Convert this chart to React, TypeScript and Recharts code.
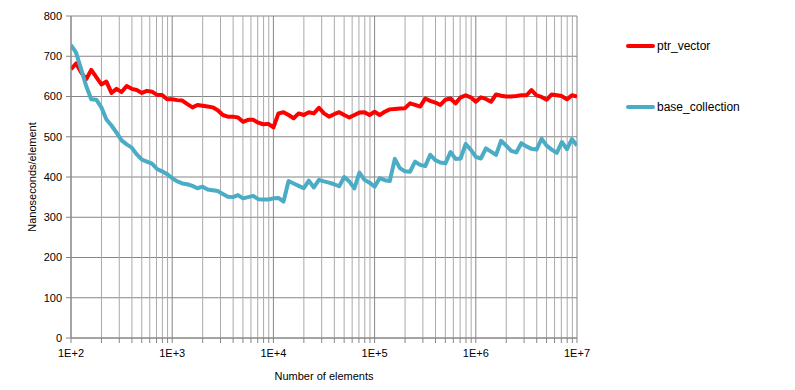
import { LineChart, Line, XAxis, YAxis, CartesianGrid, ReferenceLine, Label } from 'recharts';

// sample sizes: 20 steps per decade, 1E+2 .. 1E+7
const sizes = Array.from({ length: 101 }, (_, i) => Math.pow(10, 2 + i / 20));

const ptrVector = [
  668, 682, 660, 643, 666, 648, 630, 637, 609, 619,
  611, 626, 619, 616, 609, 614, 612, 604, 604, 593,
  593, 591, 590, 581, 573, 579, 577, 575, 573, 566,
  554, 550, 550, 548, 537, 542, 542, 535, 531, 532,
  523, 558, 561, 554, 546, 558, 554, 561, 558, 572,
  558, 550, 556, 561, 554, 548, 554, 560, 561, 554,
  562, 554, 562, 568, 569, 570, 571, 583, 579, 575,
  595, 589, 585, 579, 592, 595, 583, 598, 603, 598,
  587, 598, 594, 587, 605, 602, 600, 600, 601, 603,
  603, 616, 603, 599, 592, 605, 603, 601, 593, 603,
  600,
];

const baseCollection = [
  728, 709, 668, 626, 593, 592, 573, 543, 528, 510,
  491, 481, 473, 456, 443, 438, 433, 420, 414, 407,
  397, 389, 384, 382, 378, 372, 376, 369, 367, 365,
  358, 351, 350, 355, 347, 350, 353, 345, 344, 344,
  347, 348, 339, 390, 384, 378, 372, 391, 374, 393,
  389, 386, 382, 377, 400, 389, 372, 411, 393, 386,
  376, 397, 392, 390, 445, 422, 414, 413, 438, 430,
  427, 455, 442, 436, 434, 462, 445, 446, 482, 468,
  450, 446, 471, 463, 455, 490, 478, 465, 461, 484,
  476, 470, 468, 495, 478, 468, 460, 487, 469, 494,
  478,
];

const decades = [100, 1000, 10000, 100000, 1000000, 10000000];
const decadeLabels = ['1E+2', '1E+3', '1E+4', '1E+5', '1E+6', '1E+7'];
const yTicks = [0, 100, 200, 300, 400, 500, 600, 700, 800];

const minorTicks: number[] = [];
decades.slice(0, -1).forEach((d) => {
  for (let k = 2; k <= 9; k++) minorTicks.push(d * k);
});
const allXTicks = [...decades, ...minorTicks].sort((a, b) => a - b);

const data = sizes.map((n, i) => ({ n, ptr: ptrVector[i], base: baseCollection[i] }));

const series = [
  { key: 'ptr', name: 'ptr_vector', color: '#ff0000' },
  { key: 'base', name: 'base_collection', color: '#4bacc6' },
];

const font = '"Liberation Sans", Arial, sans-serif';
const majorGrid = '#868686';
const minorGrid = '#aaaaaa';

export default function App() {
  return (
    <div style={{ position: 'absolute', left: 0, top: 0, width: 795, height: 390, background: '#fff' }}>
      <LineChart
        width={795}
        height={390}
        data={data}
        margin={{ top: 16, right: 218, left: 21, bottom: 7 }}
      >
        <CartesianGrid vertical={false} stroke={majorGrid} strokeWidth={1} />
        {minorTicks.map((t) => (
          <ReferenceLine key={`m${t}`} x={t} stroke={minorGrid} strokeWidth={1} />
        ))}
        {decades.map((t) => (
          <ReferenceLine key={`d${t}`} x={t} stroke={majorGrid} strokeWidth={1} />
        ))}
        <XAxis
          dataKey="n"
          type="number"
          scale="log"
          domain={[100, 10000000]}
          ticks={allXTicks}
          interval={0}
          tickFormatter={(v: number) => {
            const idx = decades.findIndex((d) => Math.abs(d - v) < 1e-6 * d);
            return idx >= 0 ? decadeLabels[idx] : '';
          }}
          tick={{ fill: '#000', fontSize: 11, fontFamily: font }}
          tickLine={{ stroke: majorGrid }}
          axisLine={{ stroke: majorGrid }}
          tickSize={5}
          tickMargin={6}
          height={45}
          allowDataOverflow
        >
          <Label
            value="Number  of elements"
            position="insideBottom"
            offset={3}
            style={{ fill: '#000', fontSize: 11, fontFamily: font, whiteSpace: 'pre' }}
          />
        </XAxis>
        <YAxis
          type="number"
          domain={[0, 800]}
          ticks={yTicks}
          interval={0}
          tick={{ fill: '#000', fontSize: 11, fontFamily: font }}
          tickLine={{ stroke: majorGrid }}
          axisLine={{ stroke: majorGrid }}
          tickSize={5}
          tickMargin={4}
          width={50}
        >
          <Label
            value="Nanoseconds/element"
            angle={-90}
            position="insideLeft"
            offset={11}
            style={{ fill: '#000', fontSize: 11, fontFamily: font, textAnchor: 'middle' }}
          />
        </YAxis>
        {series.map((s) => (
          <Line
            key={s.key}
            type="linear"
            dataKey={s.key}
            name={s.name}
            stroke={s.color}
            strokeWidth={4}
            dot={false}
            strokeLinejoin="round"
            isAnimationActive={false}
          />
        ))}
      </LineChart>
      {/* legend */}
      <div style={{ position: 'absolute', left: 626, top: 38, fontFamily: font, fontSize: 12, color: '#000' }}>
        {series.map((s, i) => (
          <div key={s.key} style={{ display: 'flex', alignItems: 'center', height: 16, marginBottom: i === 0 ? 45 : 0 }}>
            <div style={{ width: 29, height: 4, borderRadius: 2, background: s.color, marginRight: 2 }} />
            <span>{s.name}</span>
          </div>
        ))}
      </div>
    </div>
  );
}
